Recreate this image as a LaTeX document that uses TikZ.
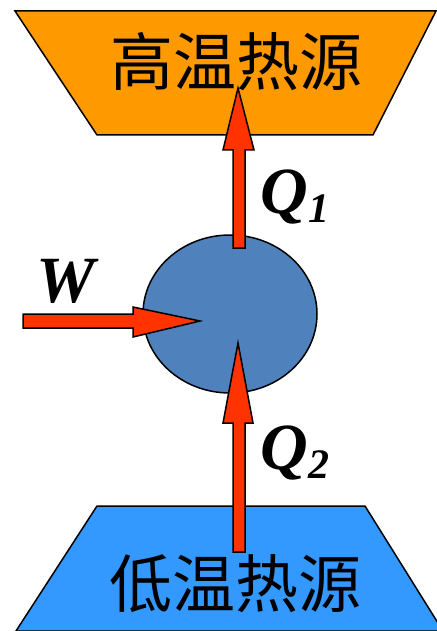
\documentclass[tikz,border=0pt]{standalone}
\usepackage{fontspec}
\usetikzlibrary{shapes.geometric}
\setmainfont{Liberation Serif}
\newfontfamily\cjk{Noto Sans CJK SC}
\definecolor{hot}{HTML}{FF9900}
\definecolor{cold}{HTML}{3399FF}
\definecolor{body}{HTML}{4F81BD}
\definecolor{arr}{HTML}{FF3300}
\begin{document}
\begin{tikzpicture}[x=1pt,y=-1pt,
  outl/.style={draw=black,line width=1.5pt,line join=miter},
  cjklabel/.style={font=\cjk\fontsize{63}{63}\selectfont,inner sep=0pt},
  symlabel/.style={font=\bfseries\itshape\fontsize{66}{66}\selectfont,inner sep=0pt}]
\useasboundingbox (0,0) rectangle (436,631);
% hot reservoir
\path[outl,fill=hot] (15,11) -- (436,11) -- (373,135) -- (97,135) -- cycle;
\node[cjklabel] (hot) at (236,62) {高温热源};
% cold reservoir
\path[outl,fill=cold] (97,506) -- (365,506) -- (443,631) -- (16,631) -- cycle;
\node[cjklabel] (cold) at (235,584) {低温热源};
% engine
\node[outl,fill=body,ellipse,minimum width=174pt,minimum height=158pt,inner sep=0pt] (eng) at (230,314) {};
% Q1 arrow
\path[outl,fill=arr] (233,248) -- (233,150) -- (223,150) -- (238,88) -- (254,150) -- (245,150) -- (245,248) -- cycle;
% Q2 arrow
\path[outl,fill=arr] (233,552) -- (233,423) -- (223,423) -- (238,343) -- (253,423) -- (245,423) -- (245,552) -- cycle;
% W arrow
\path[outl,fill=arr] (23,314) -- (133,314) -- (133,307) -- (200,321) -- (133,337) -- (133,328) -- (23,328) -- cycle;
% labels
\node[symlabel,anchor=base west] (q1) at (260,213) {Q\kern1pt\raisebox{-9pt}{\fontsize{42}{42}\selectfont 1}};
\node[symlabel,anchor=base west] (q2) at (260,469) {Q\kern1pt\raisebox{-9pt}{\fontsize{42}{42}\selectfont 2}};
\node[symlabel,anchor=base west] (w) at (36,302) {W};
\end{tikzpicture}
\end{document}
